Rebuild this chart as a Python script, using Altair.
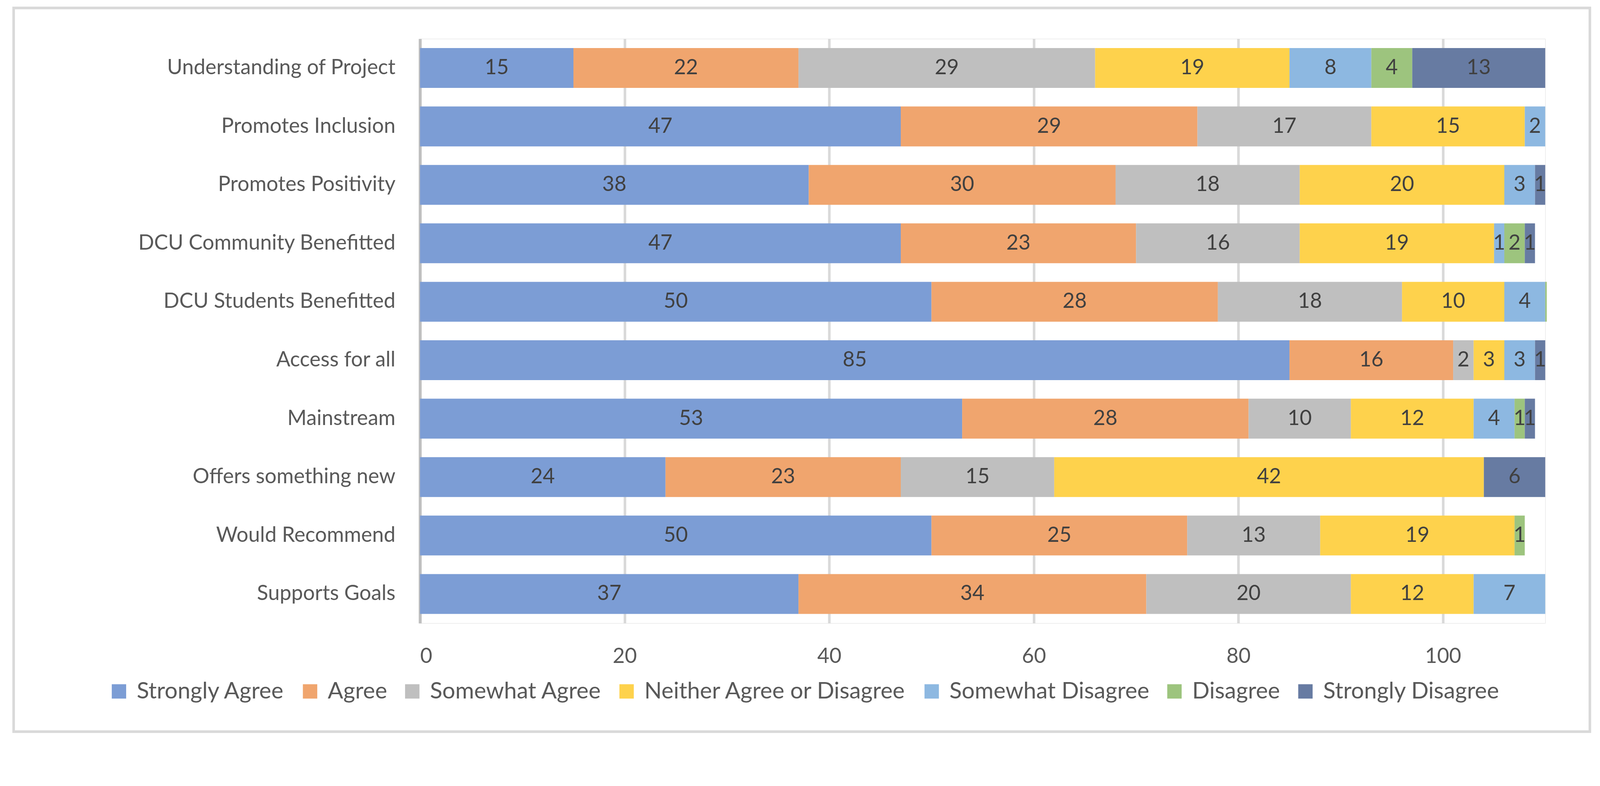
import altair as alt
import pandas as pd

categories = [
    "Understanding of Project",
    "Promotes Inclusion",
    "Promotes Positivity",
    "DCU Community Benefitted",
    "DCU Students Benefitted",
    "Access for all",
    "Mainstream",
    "Offers something new",
    "Would Recommend",
    "Supports Goals",
]

series = [
    "Strongly Agree",
    "Agree",
    "Somewhat Agree",
    "Neither Agree or Disagree",
    "Somewhat Disagree",
    "Disagree",
    "Strongly Disagree",
]

strongly_agree = [15, 47, 38, 47, 50, 85, 53, 24, 50, 37]
agree = [22, 29, 30, 23, 28, 16, 28, 23, 25, 34]
somewhat_agree = [29, 17, 18, 16, 18, 2, 10, 15, 13, 20]
neither = [19, 15, 20, 19, 10, 3, 12, 42, 19, 12]
somewhat_disagree = [8, 2, 3, 1, 4, 3, 4, 0, 0, 7]
disagree = [4, 0, 0, 2, 0.15, 0, 1, 0, 1, 0]
strongly_disagree = [13, 0, 1, 1, 0, 1, 1, 6, 0, 0]

colors = ["#7C9DD5", "#F0A56E", "#BFBFBF", "#FED24C", "#8DB8E1", "#9DC47E", "#677BA2"]

all_series = [strongly_agree, agree, somewhat_agree, neither,
              somewhat_disagree, disagree, strongly_disagree]

rows = []
for si, (name, vals) in enumerate(zip(series, all_series)):
    for ci, cat in enumerate(categories):
        rows.append({"category": cat, "series": name, "order": si, "value": vals[ci]})
df = pd.DataFrame(rows)

FONT = "Lato"
PAD_TOP = 40

base = alt.Chart(df).transform_stack(
    stack="value",
    groupby=["category"],
    sort=[alt.SortField("order", order="ascending")],
    as_=["x0", "x1"],
)

y_enc = alt.Y(
    "category:N",
    sort=categories,
    scale=alt.Scale(paddingInner=0.318, paddingOuter=0.159),
    axis=alt.Axis(
        title=None,
        labelFontSize=56.5,
        labelColor="#595959",
        labelFont=FONT,
        labelPadding=67,
        labelLimit=0,
        ticks=False,
        domainColor="#BFBFBF",
        domainWidth=8,
    ),
)

bars = base.mark_bar().encode(
    x=alt.X(
        "x0:Q",
        scale=alt.Scale(domain=[0, 110], nice=False),
        axis=alt.Axis(
            values=[0, 20, 40, 60, 80, 100],
            title=None,
            domain=False,
            ticks=False,
            grid=True,
            gridColor="#D9D9D9",
            gridWidth=7,
            labelFontSize=56.5,
            labelColor="#595959",
            labelFont=FONT,
            labelPadding=62,
        ),
    ),
    x2="x1:Q",
    y=y_enc,
    color=alt.Color(
        "series:N",
        sort=series,
        scale=alt.Scale(domain=series, range=colors),
        legend=alt.Legend(
            title=None,
            orient="none",
            direction="horizontal",
            legendX=-847,
            legendY=1738,
            symbolType="square",
            symbolSize=1521,
            symbolStrokeWidth=0,
            labelFontSize=62,
            labelColor="#595959",
            labelFont=FONT,
            labelOffset=17,
            labelLimit=0,
            columnPadding=37,
            padding=0,
        ),
    ),
    order=alt.Order("order:Q"),
)

labels = base.transform_filter(
    "datum.value >= 0.5"
).transform_calculate(
    mid="(datum.x0 + datum.x1) / 2"
).mark_text(
    fontSize=56.5, color="#404040", font=FONT, align="center", baseline="middle"
).encode(
    x=alt.X("mid:Q"),
    y=alt.Y("category:N", sort=categories),
    text=alt.Text("value:Q", format="d"),
)

border = alt.Chart(alt.Data(values=[{"a": 1}])).mark_rect(
    fill="transparent", stroke="#D9D9D9", strokeWidth=7
).encode(
    x=alt.value(-1101.5),
    x2=alt.value(3171),
    y=alt.value(-83.5),
    y2=alt.value(1878),
)

chart = alt.layer(border, bars, labels).properties(
    width=3050,
    height=1584,
    padding={"left": 1130, "top": PAD_TOP, "right": 140, "bottom": 300},
    autosize=alt.AutoSizeParams(type="none"),
).configure_view(strokeWidth=0).configure(font=FONT)

chart.save("out.html", embed_options={"renderer": "svg", "actions": False})
